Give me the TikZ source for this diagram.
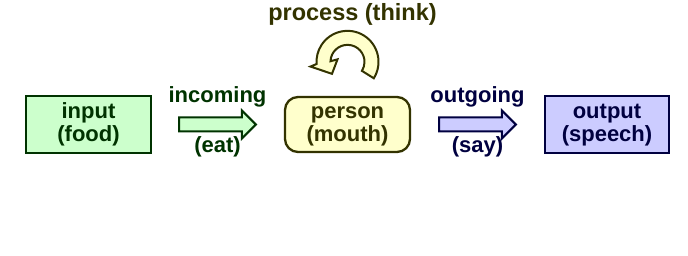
\documentclass[tikz,border=0pt]{standalone}
\usepackage{fontspec}
\setmainfont{Liberation Sans}
\usetikzlibrary{calc}
\definecolor{gfill}{HTML}{CCFFCC}
\definecolor{gline}{HTML}{003300}
\definecolor{yfill}{HTML}{FFFFCC}
\definecolor{yline}{HTML}{333300}
\definecolor{bfill}{HTML}{CCCCFF}
\definecolor{bline}{HTML}{000040}
\newcommand{\fatarrow}[3]{%
  \draw[#1] ($(#2)+(0,7)$) -- ($(#3)+(-14,7)$) -- ($(#3)+(-14,14)$) -- (#3)
    -- ($(#3)+(-14,-14)$) -- ($(#3)+(-14,-7)$) -- ($(#2)+(0,-7)$) -- cycle;}
\begin{document}
\begin{tikzpicture}[x=1pt,y=1pt,
  lbl/.style={font=\bfseries\fontsize{22}{23}\selectfont, inner sep=0pt},
  boxnode/.style={lbl, draw, line width=2.3pt, align=center, minimum width=125pt, minimum height=57pt},
  farrow/.style={line width=2pt, line join=miter}]
\useasboundingbox (0,0) rectangle (688,-256);
\node[boxnode, fill=gfill, draw=gline, text=gline] (input) at (88.5,-124.5) {\vphantom{(}input\\(food)};
\node[boxnode, fill=yfill, draw=yline, text=yline, rounded corners=13pt, minimum height=55pt] (person) at (347.5,-124.5) {\vphantom{(}person\\(mouth)};
\node[boxnode, fill=bfill, draw=bline, text=bline, minimum width=124pt] (output) at (607,-124.5) {\vphantom{(}output\\(speech)};
% incoming arrow
\coordinate (a1s) at ($(input.east)+(27,0)$);
\coordinate (a1e) at ($(person.west)+(-28,0)$);
\fatarrow{farrow, fill=gfill, draw=gline}{a1s}{a1e}
\node[lbl, text=gline, anchor=base] (inc) at ($(a1s)!0.5!(a1e)+(0,21.5)$) {incoming};
\node[lbl, text=gline, anchor=base] (eat) at ($(a1s)!0.5!(a1e)+(0,-28)$) {(eat)};
% outgoing arrow
\coordinate (a2s) at ($(person.east)+(28,0)$);
\coordinate (a2e) at ($(output.west)+(-28,0)$);
\fatarrow{farrow, fill=bfill, draw=bline}{a2s}{a2e}
\node[lbl, text=bline, anchor=base] (outg) at ($(a2s)!0.5!(a2e)+(0,21.5)$) {outgoing};
\node[lbl, text=bline, anchor=base] (say) at ($(a2s)!0.5!(a2e)+(0,-28)$) {(say)};
% circular process arrow
\coordinate (cc) at ($(person.north)+(0,34)$);
\draw[farrow, fill=yfill, draw=yline]
  ($(cc)+(-32:31)$) arc[start angle=-32, end angle=184, radius=31]
  -- ($(cc)+(-37,-4.7)$) -- ($(cc)+(-15.5,-12)$) -- ($(cc)+(-10,2.5)$)
  -- ($(cc)+(178:17)$) arc[start angle=178, end angle=-32, radius=17] -- cycle;
\node[lbl, text=yline, anchor=base, font=\bfseries\fontsize{23.5}{24}\selectfont] (proc) at (352.5,-21) {process (think)};
\end{tikzpicture}
\end{document}
